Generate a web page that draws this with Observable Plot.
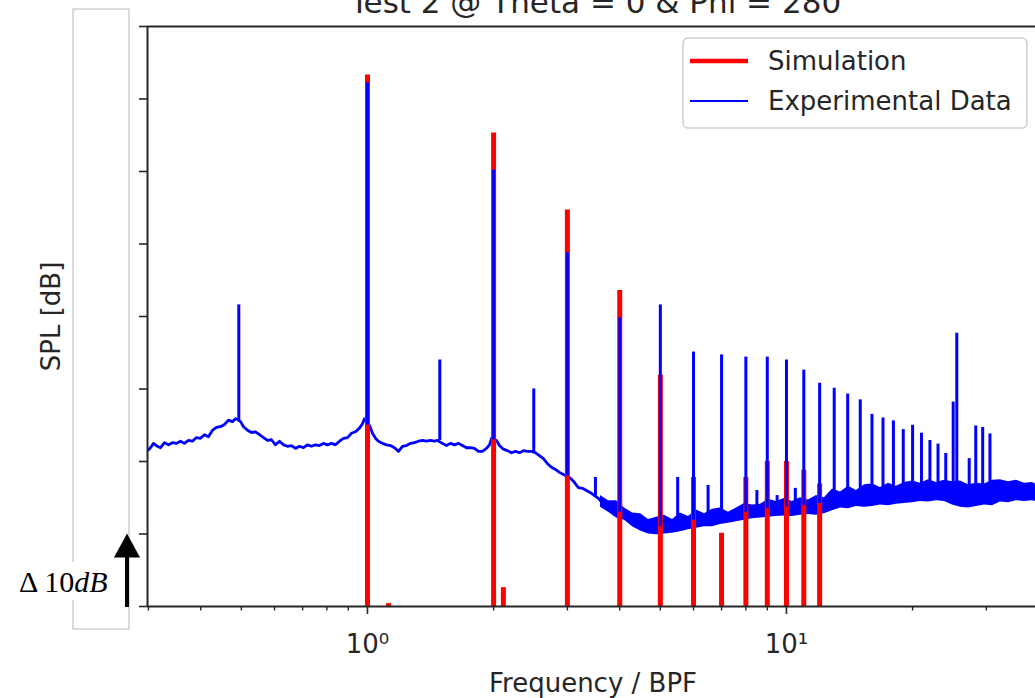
<!DOCTYPE html>
<html><head><meta charset="utf-8">
<script src="https://cdn.jsdelivr.net/npm/d3@7"></script>
<script src="https://cdn.jsdelivr.net/npm/@observablehq/plot@0.6"></script>
<style>
html,body{margin:0;padding:0;background:#fff;overflow:hidden}
</style></head><body><div id="chart"></div>
<script>
const titleText = "Test 2 @ Theta = 0 & Phi = 280";
const xLabel = "Frequency / BPF";
const yLabel = "SPL [dB]";
const seriesNames = ["Simulation", "Experimental Data"];
const deltaValue = 10;
const xMajorTicks = [1, 10];
const xTickLabels = ["10\u2070", "10\u00b9"];
const xMinorTicks = [0.3,0.4,0.5,0.6,0.7,0.8,0.9,2,3,4,5,6,7,8,9,20,30];
const yTicks = [0,10,20,30,40,50,60,70,80];
const xDomain = [0.2985, 39.3];
const yDomain = [0, 80];

// Experimental data: broadband floor [frequency/BPF, dB]
const expFloor = [
[0.2985,21.5],[0.3034,21.9],[0.3085,22.5],[0.3152,22.1],[0.3206,21.9],[0.3277,22.6],[0.3350,22.3],[0.3424,22.6],[0.3500,22.5],[0.3578,22.8],
[0.3657,22.5],[0.3738,22.9],[0.3821,22.8],[0.3906,23.3],[0.3993,23.2],[0.4082,23.7],[0.4172,23.4],[0.4265,24.3],[0.4360,24.7],[0.4457,24.8],
[0.4556,25.1],[0.4658,25.7],[0.4761,25.5],[0.4842,25.9],[0.4895,25.8],[0.4977,25.5],[0.5060,24.8],[0.5172,24.3],[0.5287,24.0],[0.5404,24.1],
[0.5524,23.7],[0.5647,23.3],[0.5772,22.9],[0.5901,23.0],[0.6031,22.3],[0.6166,22.8],[0.6302,22.3],[0.6442,22.1],[0.6586,22.2],[0.6732,21.8],
[0.6881,22.1],[0.7034,21.9],[0.7190,22.3],[0.7350,22.1],[0.7513,22.3],[0.7680,22.2],[0.7851,22.5],[0.8026,22.3],[0.8204,22.5],[0.8386,22.3],
[0.8574,22.8],[0.8764,23.2],[0.8960,23.3],[0.9158,23.9],[0.9362,24.1],[0.9570,24.6],[0.9729,25.2],[0.9836,25.9],[1.011,25.0],[1.028,23.9],
[1.045,23.2],[1.062,22.8],[1.086,22.5],[1.110,22.3],[1.135,22.2],[1.160,21.9],[1.186,21.4],[1.212,22.1],[1.239,22.2],[1.266,22.5],
[1.295,22.6],[1.324,22.8],[1.353,22.9],[1.383,22.8],[1.414,22.9],[1.445,22.8],[1.469,22.9],[1.510,22.5],[1.543,22.2],[1.578,22.5],
[1.613,22.3],[1.649,22.5],[1.685,22.2],[1.723,21.9],[1.761,21.9],[1.800,21.8],[1.840,21.4],[1.881,21.4],[1.923,21.8],[1.955,22.3],
[1.977,23.2],[2.032,22.9],[2.065,22.2],[2.111,21.7],[2.158,21.5],[2.207,21.2],[2.256,21.4],[2.306,21.2],[2.357,21.5],[2.409,21.4],
[2.463,21.4],[2.518,21.2],[2.573,20.8],[2.630,20.4],[2.689,19.7],[2.749,19.2],[2.810,18.9],[2.872,18.5],[2.936,18.2],[3.051,17.7],
[3.119,17.1],[3.188,16.4],[3.259,16.3],[3.332,16.0],[3.406,15.7],[3.482,15.3],[3.559,14.9],[3.638,14.3],[3.719,13.8],[3.802,13.4],
[3.886,13.1],[4.106,12.7],[4.197,12.1],[4.292,11.6],[4.385,11.3],[4.483,11.9],[4.583,11.0],[4.684,10.9],[4.788,10.8],[4.895,11.2],
[5.115,10.8],[5.229,10.9],[5.345,11.0],[5.464,11.3],[5.585,11.6],[5.710,11.3],[5.837,11.9],[6.166,11.9],[6.303,12.0],[6.444,12.3],
[6.622,12.0],[6.769,12.3],[7.152,12.4],[7.311,12.6],[7.473,12.7],[7.640,12.7],[7.809,13.0],[8.207,13.1],[8.389,13.2],[8.576,13.2],
[8.767,13.5],[9.209,13.5],[9.413,13.7],[9.623,13.5],[9.783,13.8],[10.22,13.7],[10.45,13.8],[10.74,13.8],[11.28,13.9],[11.54,14.1],
[12.26,14.2],[12.53,14.2],[13.31,14.9],[13.61,15.2],[14.37,15.0],[14.61,15.4],[15.36,15.2],[15.61,15.5],[16.40,15.3],[16.58,15.6],
[17.33,15.4],[17.62,15.6],[18.41,15.3],[18.61,15.7],[19.34,15.5],[19.66,15.8],[20.43,15.6],[21.47,15.9],[22.43,15.7],[23.44,16.0],
[24.49,15.6],[26.17,15.3],[26.75,15.1],[27.80,15.4],[28.88,15.3],[30.01,15.6],[31.36,15.4],[32.41,16.0],[33.50,15.8],[34.63,16.1],
[35.79,15.7],[36.98,16.0],[38.22,15.8],[39.30,15.9]
];

// Experimental data: spread of the noisy floor at higher frequencies [frequency/BPF, low dB, high dB]
const expBand = [
[3.598,13.7,15.3],[3.760,13.0,14.6],[3.930,12.2,14.6],[4.106,11.9,13.6],[4.292,11.0,12.9],[4.483,10.4,12.8],[4.684,10.0,12.0],
[4.895,9.9,12.3],[5.115,10.0,12.6],[5.345,10.1,12.0],[5.585,10.3,12.9],[5.837,10.6,12.4],[6.099,10.8,13.3],[6.374,11.0,12.8],
[6.660,11.0,13.4],[6.959,11.3,13.6],[7.272,11.5,13.0],[7.598,11.7,13.6],[7.940,11.9,14.2],[8.297,12.1,14.0],[8.668,12.2,14.1],
[9.058,12.3,14.8],[9.465,12.4,14.5],[9.890,12.5,14.9],[10.33,12.4,14.5],[10.80,12.6,15.0],[11.28,12.7,14.7],[11.79,12.6,15.3],
[12.32,12.8,15.0],[12.88,13.2,16.2],[13.46,13.6,15.8],[14.06,13.5,16.6],[14.69,13.8,16.0],[15.36,13.7,16.8],[16.05,13.8,16.9],
[16.76,14.0,16.4],[17.52,13.9,17.0],[18.30,14.1,16.6],[19.13,14.2,17.1],[19.98,14.3,17.3],[20.88,14.5,17.0],[21.83,14.4,17.5],
[22.80,14.6,17.1],[23.83,14.5,17.4],[24.90,14.0,17.2],[26.02,13.7,17.3],[27.20,13.6,16.8],[28.42,13.8,17.0],[29.69,14.0,16.9],
[31.02,13.9,17.4],[32.41,14.4,17.5],[33.87,14.3,17.2],[35.39,14.6,17.4],[36.98,14.5,17.0],[38.65,14.6,17.1],[39.30,14.5,16.9]
];

// Experimental data: tonal peaks [frequency/BPF, base dB, peak dB]
const expPeaks = [
[0.493,25.5,41.6],[1.0,25.0,72.2],[1.488,22.9,34.0],[2.0,23.0,60.2],[2.494,21.3,30.0],[3.0,18.0,48.8],[3.5,15.2,17.8],
[4.0,13.0,39.8],[4.5,11.5,12.6],[5.0,11.0,41.6],[5.5,11.3,17.8],[6.0,11.9,35.1],[6.5,12.2,16.7],[7.0,12.3,34.7],
[8.0,13.0,34.4],[8.5,13.2,16.0],[9.0,13.5,34.4],[9.5,13.6,15.3],[10,13.7,34.0],[10.5,13.8,16.3],[11,13.9,32.6],
[12,14.2,30.8],[13,14.8,30.1],[14,15.0,29.3],[15,15.2,28.5],[16,15.3,26.5],[17,15.4,26.0],[18,15.4,25.6],[19,15.5,24.4],
[20,15.6,25.0],[21,15.7,23.9],[22,15.7,22.9],[23,15.8,22.4],[24,15.8,21.1],[25,15.6,28.2],[25.5,15.6,37.7],
[27.3,15.3,20.4],[28.3,15.3,24.9],[29.4,15.4,24.7],[30.6,15.5,23.8]
];

// Simulation: tonal levels [frequency/BPF, peak dB]
const simPeaks = [
[1.0,73.3],[1.122,0.4],[2.0,65.3],[2.11,2.6],[3.0,54.7],[4.0,43.6],[5.0,31.9],[6.0,17.8],
[7.0,10.1],[8.0,17.8],[9.0,20.0],[10.0,20.0],[11.0,18.8],[12.0,16.9]
];

const ink = "#262626";
const RED = "#ff0000", BLUE = "#0000ff";

function labelBox(index, scales, values, dim) {
  const g = d3.create("svg:g");
  g.append("rect").attr("x", 73).attr("y", 9).attr("width", 56).attr("height", 620)
    .attr("fill", "#fff").attr("stroke", "#c4c4c4").attr("stroke-width", 1.2);
  return g.node();
}

function deltaArrow(index, scales, values, dim) {
  const g = d3.create("svg:g");
  const y0 = scales.y(yDomain[0]);
  const y1 = scales.y(yDomain[0] + deltaValue);
  const ax = dim.marginLeft - 20;
  g.append("rect").attr("x", 14).attr("y", 562).attr("width", 100).attr("height", 38).attr("fill", "#fff");
  g.append("line").attr("x1", ax).attr("x2", ax).attr("y1", y0 + 1).attr("y2", y1 + 22)
    .attr("stroke", "#000").attr("stroke-width", 4);
  g.append("path").attr("d", `M${ax - 13},${y1 + 24}L${ax + 13},${y1 + 24}L${ax},${y1}Z`).attr("fill", "#000");
  const t = g.append("text").attr("x", 19).attr("y", 592).attr("text-anchor", "start")
    .attr("font-family", "'Liberation Serif', 'DejaVu Serif', serif").attr("font-size", 30).attr("fill", "#000");
  t.append("tspan").text("\u0394 " + deltaValue);
  t.append("tspan").attr("font-style", "italic").text("dB");
  return g.node();
}

function legendMark(index, scales, values, dim) {
  const g = d3.create("svg:g");
  const right = dim.width - dim.marginRight - 8;
  const w = 344, h = 90;
  const left = right - w, top = dim.marginTop + 12;
  g.append("rect").attr("x", left).attr("y", top).attr("width", w).attr("height", h).attr("rx", 5)
    .attr("fill", "#fff").attr("fill-opacity", 0.85).attr("stroke", "#d0d0d0").attr("stroke-width", 1.5);
  const rows = [{name: seriesNames[0], color: RED, sw: 4.5}, {name: seriesNames[1], color: BLUE, sw: 2.2}];
  rows.forEach((r, i) => {
    const cy = top + 23 + i * 40;
    g.append("line").attr("x1", left + 7).attr("x2", left + 65).attr("y1", cy).attr("y2", cy)
      .attr("stroke", r.color).attr("stroke-width", r.sw);
    g.append("text").attr("x", left + 85).attr("y", cy).attr("dy", "0.35em").attr("text-anchor", "start")
      .attr("fill", ink).attr("font-size", 26).text(r.name);
  });
  return g.node();
}

const chart = Plot.plot({
  width: 1035, height: 698,
  marginLeft: 147, marginRight: 0, marginTop: 26, marginBottom: 92,
  style: {fontFamily: "'DejaVu Sans', sans-serif", fontSize: "26px", background: "#fff", color: ink},
  x: {type: "log", domain: xDomain},
  y: {domain: yDomain},
  marks: [
    labelBox,
    Plot.areaY(expBand, {x: d => d[0], y1: d => d[1], y2: d => d[2], fill: BLUE, clip: true}),
    Plot.line(expFloor, {x: d => d[0], y: d => d[1], stroke: BLUE, strokeWidth: 2.8, clip: true}),
    Plot.ruleX(simPeaks, {x: d => d[0], y1: yDomain[0], y2: d => d[1], stroke: RED, strokeWidth: 5}),
    Plot.ruleX(expPeaks, {x: d => d[0], y1: d => d[1], y2: d => d[2], stroke: BLUE, strokeWidth: 3}),
    Plot.ruleY([yDomain[0], yDomain[1]], {stroke: ink, strokeWidth: 2}),
    Plot.ruleX([xDomain[0]], {stroke: ink, strokeWidth: 2}),
    Plot.axisY(yTicks, {tickSize: 8, tickFormat: () => "", stroke: ink, strokeWidth: 1.6, label: null}),
    Plot.axisX(xMinorTicks, {tickSize: 4.5, tickFormat: () => "", stroke: ink, strokeWidth: 1.4, label: null}),
    Plot.axisX(xMajorTicks, {tickSize: 8, tickFormat: () => "", stroke: ink, strokeWidth: 1.6, label: null}),
    Plot.text(xMajorTicks, {x: d => d, frameAnchor: "bottom", dy: 37.7, text: (d, i) => xTickLabels[i], textAnchor: "middle", lineAnchor: "middle", fill: ink, fontSize: 26}),
    Plot.text([xLabel], {frameAnchor: "bottom", dx: 1.5, dy: 76.7, text: d => d, textAnchor: "middle", lineAnchor: "middle", fill: ink, fontSize: 26}),
    Plot.text([yLabel], {frameAnchor: "left", dx: -96, rotate: -90, text: d => d, textAnchor: "middle", lineAnchor: "middle", fill: ink, fontSize: 26}),
    Plot.text([titleText], {frameAnchor: "top", dx: 4, dy: -23.4, text: d => d, textAnchor: "middle", lineAnchor: "middle", fill: ink, fontSize: 31}),
    legendMark,
    deltaArrow
  ]
});
document.getElementById("chart").appendChild(chart);
</script>
</body></html>
